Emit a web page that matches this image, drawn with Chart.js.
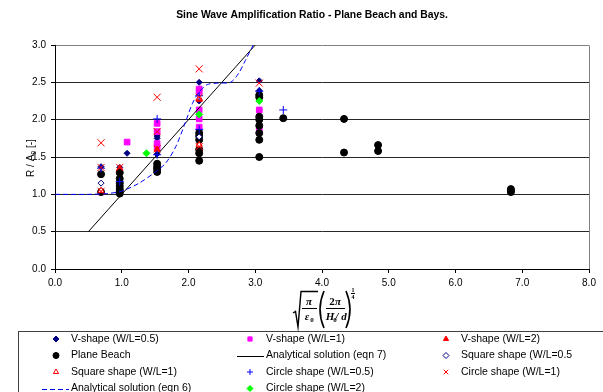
<!DOCTYPE html>
<html>
<head>
<meta charset="utf-8">
<script src="https://cdn.jsdelivr.net/npm/chart.js@4.4.0/dist/chart.umd.min.js"></script>
<style>
    html, body { margin: 0; padding: 0; background: #fff; }
    #wrap { width: 603px; height: 392px; }
</style>
</head>
<body>
<div id="wrap"><canvas id="ampChart" width="603" height="392"></canvas></div>
<script>
// values, as [x, R/A0]
const vShape05 = [[0.69, 1.37], [0.97, 1.36], [0.97, 1.30], [1.08, 1.55], [1.53, 1.78], [1.53, 1.75], [1.53, 1.54],
    [2.16, 2.50], [2.16, 2.25], [2.16, 1.86], [3.06, 2.52], [3.06, 2.39], [3.06, 2.13]];
const vShape1 = [[1.08, 1.70], [1.53, 1.95], [1.53, 1.84], [1.53, 1.68], [1.53, 1.62], [2.16, 2.41], [2.16, 2.38],
    [2.16, 2.13], [2.16, 2.01], [2.16, 1.90], [3.06, 2.13], [3.06, 1.87]];
const vShape2 = [[0.69, 1.04], [0.97, 1.35], [1.53, 1.60], [2.16, 2.27], [2.16, 1.67]];
const planeBeach = [[0.69, 1.27], [0.69, 1.03], [0.97, 1.29], [0.97, 1.21], [0.97, 1.15], [0.97, 1.11], [0.97, 1.07],
    [0.97, 1.04], [0.97, 1.01], [1.53, 1.41], [1.53, 1.37], [1.53, 1.34], [1.53, 1.30], [2.16, 1.82], [2.16, 1.78],
    [2.16, 1.73], [2.16, 1.60], [2.16, 1.55], [2.16, 1.45], [3.06, 2.33], [3.06, 2.30], [3.06, 2.04], [3.06, 2.00],
    [3.06, 1.92], [3.06, 1.82], [3.06, 1.73], [3.06, 1.50], [3.42, 2.02], [4.33, 2.01], [4.33, 1.56], [4.84, 1.66],
    [4.84, 1.58], [6.83, 1.07], [6.83, 1.05], [6.83, 1.03]];
const eqn7 = [[0.5, 0.5], [3.0, 3.0]];
const square05 = [[0.69, 1.15], [2.16, 1.77]];
const square1 = [[0.69, 1.05], [2.16, 1.66], [2.16, 2.29]];
const circle05 = [[0.69, 1.35], [0.97, 1.17], [1.53, 2.01], [1.53, 1.53], [2.16, 1.87], [2.16, 2.32], [3.06, 2.38], [3.42, 2.13]];
const circle1 = [[0.69, 1.69], [0.69, 1.36], [0.69, 1.04], [0.97, 1.36], [1.53, 2.30], [1.53, 1.84], [1.53, 1.61],
    [2.16, 2.68], [2.16, 2.30], [2.16, 1.64], [3.06, 2.49]];
const eqn6 = [[0, 1.0], [0.5, 1.0], [0.77, 1.01], [0.99, 1.04], [1.26, 1.15], [1.52, 1.31], [1.66, 1.42], [1.81, 1.64],
    [1.96, 1.98], [2.06, 2.22], [2.16, 2.37], [2.28, 2.47], [2.46, 2.49], [2.63, 2.50], [2.75, 2.62], [2.85, 2.79], [2.97, 3.0]];
const circle2 = [[1.37, 1.55], [2.16, 2.07], [3.06, 2.25]];

const seriesNames = ['V-shape (W/L=0.5)', 'V-shape (W/L=1)', 'V-shape (W/L=2)', 'Plane Beach',
    'Analytical solution (eqn 7)', 'Square shape (W/L=0.5', 'Square shape (W/L=1)', 'Circle shape (W/L=0.5)',
    'Circle shape (W/L=1)', 'Analytical solution (eqn 6)', 'Circle shape (W/L=2)'];

const sans = '"Liberation Sans", Arial, sans-serif';
const serif = '"Liberation Serif", "Times New Roman", serif';

function pts(arr) {
    return arr.map(p => ({ x: p[0], y: p[1] }));
}

function markerSet(data, style, radius, fill, stroke) {
    return {
        data: pts(data), showLine: false, pointStyle: style, pointRadius: radius,
        pointBackgroundColor: fill, pointBorderColor: stroke, pointBorderWidth: 1
    };
}

function lineSet(data, color, dash) {
    return {
        data: pts(data), showLine: true, pointRadius: 0, borderColor: color, borderWidth: 1,
        borderDash: dash, tension: 0.3, fill: false
    };
}

var datasets = [
    markerSet(vShape05, 'rectRot', 3, '#000080', '#000080'),
    markerSet(vShape1, 'rect', 4, '#FF00FF', '#FF00FF'),
    markerSet(vShape2, 'triangle', 3.5, '#FF0000', '#FF0000'),
    markerSet(planeBeach, 'circle', 3.5, '#000000', '#000000'),
    lineSet(eqn7, '#000000', []),
    markerSet(square05, 'rectRot', 3, '#FFFFFF', '#000080'),
    markerSet(square1, 'triangle', 3.5, '#FFFFFF', '#FF0000'),
    markerSet(circle05, 'cross', 4, '#0000FF', '#0000FF'),
    markerSet(circle1, 'crossRot', 5, '#FF0000', '#FF0000'),
    lineSet(eqn6, '#0000FF', [5, 3]),
    markerSet(circle2, 'rectRot', 3.5, '#00FF00', '#00FF00')
];
datasets.forEach(function (ds, i) {
    ds.label = seriesNames[i];
    ds.order = -i; // later series on top, like the original
});

// small marker drawer for the legend
function drawMarker(ctx, style, x, y, r, fill, stroke) {
    ctx.beginPath();
    if (style === 'circle') {
        ctx.arc(x, y, r, 0, Math.PI * 2);
    } else if (style === 'rect') {
        ctx.rect(x - r * 0.7, y - r * 0.7, r * 1.4, r * 1.4);
    } else if (style === 'rectRot') {
        ctx.moveTo(x - r, y); ctx.lineTo(x, y - r); ctx.lineTo(x + r, y); ctx.lineTo(x, y + r); ctx.closePath();
    } else if (style === 'triangle') {
        ctx.moveTo(x, y - r); ctx.lineTo(x + r * 0.87, y + r * 0.5); ctx.lineTo(x - r * 0.87, y + r * 0.5); ctx.closePath();
    } else if (style === 'cross') {
        ctx.moveTo(x - r, y); ctx.lineTo(x + r, y); ctx.moveTo(x, y - r); ctx.lineTo(x, y + r);
    } else if (style === 'crossRot') {
        var d = r * 0.75;
        ctx.moveTo(x - d, y - d); ctx.lineTo(x + d, y + d); ctx.moveTo(x + d, y - d); ctx.lineTo(x - d, y + d);
    }
    if (style !== 'cross' && style !== 'crossRot') {
        ctx.fillStyle = fill;
        ctx.fill();
    }
    ctx.strokeStyle = stroke;
    ctx.lineWidth = 1;
    ctx.stroke();
}

function drawFormula(ctx) {
    ctx.save();
    ctx.strokeStyle = '#000';
    ctx.fillStyle = '#000';
    ctx.lineJoin = 'miter';
    // radical sign
    ctx.lineWidth = 1.4;
    ctx.beginPath();
    ctx.moveTo(293, 313); ctx.lineTo(295.5, 311.5); ctx.lineTo(298, 327); ctx.lineTo(301, 291.5); ctx.lineTo(318, 291.5);
    ctx.stroke();
    ctx.textAlign = 'center';
    ctx.textBaseline = 'alphabetic';
    ctx.font = 'bold italic 11px ' + serif;
    ctx.fillText('π', 309, 305);
    ctx.lineWidth = 1;
    ctx.beginPath(); ctx.moveTo(302, 308.5); ctx.lineTo(317, 308.5); ctx.stroke();
    ctx.fillText('ε', 307, 320);
    ctx.font = 'bold 7px ' + serif;
    ctx.fillText('0', 312, 322);
    // brackets
    ctx.lineWidth = 1.6;
    ctx.beginPath(); ctx.moveTo(324, 291); ctx.quadraticCurveTo(316, 309.5, 324, 328); ctx.stroke();
    ctx.beginPath(); ctx.moveTo(346, 291); ctx.quadraticCurveTo(354, 309.5, 346, 328); ctx.stroke();
    // inner fraction
    ctx.font = 'bold 11px ' + serif;
    ctx.fillText('2', 332, 305);
    ctx.font = 'bold italic 11px ' + serif;
    ctx.fillText('π', 338, 305);
    ctx.lineWidth = 1;
    ctx.beginPath(); ctx.moveTo(326, 308.5); ctx.lineTo(345, 308.5); ctx.stroke();
    ctx.fillText('H', 330, 320);
    ctx.font = 'bold 7px ' + serif;
    ctx.fillText('0', 335, 322);
    ctx.font = 'bold italic 11px ' + serif;
    ctx.fillText('/ d', 341, 320);
    // exponent 1/4
    ctx.font = 'bold 6px ' + serif;
    ctx.fillText('1', 353, 292);
    ctx.beginPath(); ctx.moveTo(351, 293.5); ctx.lineTo(355, 293.5); ctx.stroke();
    ctx.fillText('4', 353, 299);
    ctx.restore();
}

const decorPlugin = {
    id: 'decor',
    afterDraw: function (chart) {
        var ctx = chart.ctx;
        var area = chart.chartArea;
        ctx.save();

        // grey plot border on the right
        ctx.strokeStyle = '#808080';
        ctx.lineWidth = 1;
        ctx.beginPath();
        ctx.moveTo(Math.round(area.right) + 0.5, Math.round(area.top) + 0.5);
        ctx.lineTo(Math.round(area.right) + 0.5, Math.round(area.bottom));
        ctx.stroke();

        // title
        var title = 'Sine Wave Amplification Ratio - Plane Beach and Bays.';
        ctx.fillStyle = '#000';
        ctx.font = 'bold 9px ' + sans;
        var w = ctx.measureText(title).width;
        var size = 9 * 272 / w;
        ctx.font = 'bold ' + size.toFixed(2) + 'px ' + sans;
        ctx.textAlign = 'center';
        ctx.textBaseline = 'middle';
        ctx.fillText(title, 312, 15);

        // y axis title
        ctx.save();
        ctx.translate(31, 158);
        ctx.rotate(-Math.PI / 2);
        ctx.textAlign = 'left';
        ctx.font = '10px ' + sans;
        var p1 = 'R / A', p2 = ' [-]';
        var w1 = ctx.measureText(p1).width;
        ctx.font = '7px ' + sans;
        var ws = ctx.measureText('0').width;
        ctx.font = '10px ' + sans;
        var w2 = ctx.measureText(p2).width;
        var x0 = -(w1 + ws + w2) / 2;
        ctx.fillText(p1, x0, 0);
        ctx.font = '7px ' + sans;
        ctx.fillText('0', x0 + w1, 3);
        ctx.font = '10px ' + sans;
        ctx.fillText(p2, x0 + w1 + ws, 0);
        ctx.restore();

        drawFormula(ctx);

        // legend box
        ctx.strokeStyle = '#404040';
        ctx.lineWidth = 1;
        ctx.strokeRect(18.5, 331.5, 700, 100);

        var markX = [56, 250, 446];
        var textX = [71, 266, 461];
        var rowY = [339, 355.5, 372, 388.5];
        ctx.font = '10.5px ' + sans;
        ctx.textAlign = 'left';
        ctx.textBaseline = 'middle';
        chart.data.datasets.forEach(function (ds, i) {
            var col = i % 3, row = Math.floor(i / 3);
            var y = rowY[row];
            if (ds.showLine) {
                ctx.save();
                ctx.strokeStyle = ds.borderColor;
                ctx.lineWidth = 1;
                ctx.setLineDash(ds.borderDash);
                ctx.beginPath();
                ctx.moveTo(textX[col] - 29, Math.round(y) + 0.5);
                ctx.lineTo(textX[col] - 2, Math.round(y) + 0.5);
                ctx.stroke();
                ctx.restore();
            } else {
                var r = Math.min(ds.pointRadius, 3);
                drawMarker(ctx, ds.pointStyle, markX[col], y, r, ds.pointBackgroundColor, ds.pointBorderColor);
            }
            ctx.fillStyle = '#000';
            ctx.fillText(ds.label, textX[col], y);
        });
        ctx.restore();
    }
};

document.addEventListener('DOMContentLoaded', function () {
    var ctx = document.getElementById('ampChart').getContext('2d');
    var ampChart = new Chart(ctx, {
        type: 'scatter',
        data: { datasets: datasets },
        options: {
            responsive: false,
            animation: false,
            events: [],
            layout: { padding: { left: 0, top: 45, right: 14, bottom: 103 } },
            plugins: {
                legend: { display: false },
                title: { display: false },
                tooltip: { enabled: false }
            },
            scales: {
                x: {
                    type: 'linear', min: 0, max: 8,
                    ticks: {
                        stepSize: 1, padding: 4, color: '#000', maxRotation: 0,
                        font: { family: sans, size: 10 },
                        callback: function (v) { return v.toFixed(1); }
                    },
                    grid: { drawOnChartArea: false, tickLength: 4, color: '#000' },
                    border: { color: '#000' },
                    afterFit: function (scale) { scale.height = 20; }
                },
                y: {
                    min: 0, max: 3,
                    ticks: {
                        stepSize: 0.5, padding: 5, color: '#000',
                        font: { family: sans, size: 10 },
                        callback: function (v) { return v.toFixed(1); }
                    },
                    grid: {
                        tickLength: 4, tickColor: '#000',
                        color: function (c) { return c.tick && c.tick.value === 3 ? '#808080' : '#262626'; }
                    },
                    border: { color: '#000' },
                    afterFit: function (scale) { scale.width = 55; }
                }
            }
        },
        plugins: [decorPlugin]
    });
});
</script>
</body>
</html>
